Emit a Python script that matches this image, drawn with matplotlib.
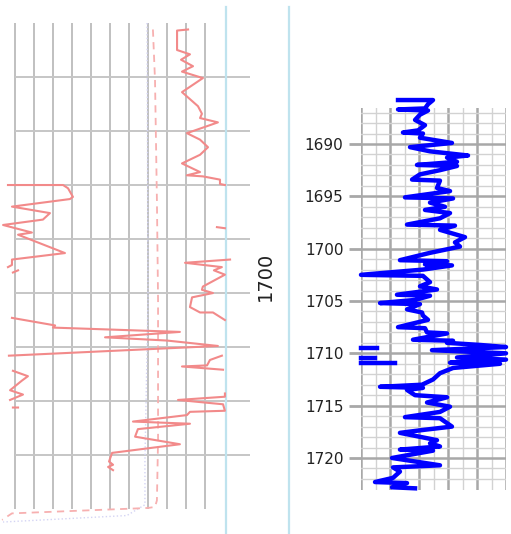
import numpy as np
import matplotlib
matplotlib.use("Agg")
import matplotlib.pyplot as plt

# ---- left track: curves (value 0-100 scale, depth) ----
curve_a_val = [91.1, 85.3, 85.3, 92.1, 87.4, 93.7, 87.9, 98.9, 87.9, 96.3, 98.4, 97.4,
               106.8, 90.5, 97.4, 101.6, 97.4, 87.9, 97.4, 90.5, 98.9, 107.9, 107.9, 110.5]
curve_a_dep = [1675.6, 1675.7, 1677.5, 1677.9, 1678.4, 1679.0, 1679.5, 1680.1, 1681.4, 1682.7,
               1683.4, 1683.8, 1684.2, 1685.2, 1685.8, 1686.5, 1687.2, 1688.0, 1688.8, 1689.1,
               1689.2, 1689.5, 1689.9, 1690.0]

curve_b_val = [-3.7, 25.3, 27.9, 30.5, 28.9, -1.6, 18.4, 14.7, -6.3, 8.9, 1.6, 26.3, -1.6, -1.6, -3.7,
               np.nan, -1.1, 1.6]
curve_b_dep = [1690.0, 1690.0, 1690.3, 1691.1, 1691.3, 1692.0, 1692.6, 1693.2, 1693.7, 1694.4,
               1694.6, 1696.3, 1696.9, 1697.4, 1697.6, np.nan, 1698.1, 1697.9]

curve_c_val = [106.3, 110.5, np.nan, 113.2, 89.5, 108.9, 104.7, 110.5, 98.9, 98.4, 104.2, 93.2,
               92.1, 97.4, 104.2, 110.5]
curve_c_dep = [1693.9, 1694.0, np.nan, 1696.9, 1697.2, 1697.6, 1697.9, 1698.3, 1699.4, 1699.7,
               1700.0, 1700.4, 1701.3, 1701.8, 1701.8, 1702.5]

curve_d_val = [-1.6, 21.1, 20.0, 86.8, 47.4, 80.0, 106.8, -3.2, np.nan,
               108.9, 102.6, 101.1, 87.9, 109.5]
curve_d_dep = [1702.3, 1703.0, 1703.2, 1703.6, 1704.1, 1704.4, 1704.9, 1705.8, np.nan,
               1705.8, 1706.2, 1706.7, 1706.8, 1707.1]

curve_e_val = [-1.1, 6.8, 3.7, -2.6, 4.2, -2.6, np.nan, -1.1, 1.6]
curve_e_dep = [1707.2, 1707.7, 1708.1, 1709.0, 1709.4, 1709.9, np.nan, 1710.6, 1710.6]

curve_f_val = [110.5, 110.5, 85.8, 109.5, 110.5, 92.1, 90.5, 62.1, 92.1, 64.7, 63.2, 86.8,
               51.1, 49.5, 51.6, 49.0, 51.6]
curve_f_dep = [1709.3, 1709.6, 1709.9, 1710.3, 1710.9, 1711.0, 1711.3, 1711.9, 1712.1, 1712.6,
               1713.3, 1714.0, 1714.8, 1715.6, 1715.9, 1716.1, 1716.4]

dashed_val = [72.6, 73.7, 74.7, 75.3, 75.3, 74.7, 73.7, 70.0, -1.6, -6.8]
dashed_dep = [1675.6, 1680.3, 1691.4, 1700.6, 1713.6, 1719.2, 1719.8, 1719.9, 1720.4, 1721.0]

dotted_val = [69.5, 70.0, 68.4, 68.4, 58.9, -6.3]
dotted_dep = [1675.0, 1700.6, 1715.5, 1719.6, 1720.6, 1721.2]

# ---- right track: blue log ----
blue_dep = [1685.8, 1685.8, 1686.2, 1686.6, 1686.7, 1686.8, 1687.2, 1687.7, 1688.2, 1688.7,
            1688.9, 1689.0, 1689.4, 1689.9, 1690.3, 1690.7, 1691.1, 1691.3, 1691.7, 1692.0,
            1692.1, 1692.5, 1692.9, 1693.4, 1693.5, 1694.2, 1694.5, 1695.1, 1695.2, 1695.6,
            1696.0, 1696.3, 1696.6, 1697.1, 1697.7, 1697.8, 1698.2, 1698.9, 1699.4, 1699.8,
            1700.4, 1701.1, 1701.2, 1701.5, 1701.6, 1702.0, 1702.5, 1702.6, 1703.2, 1703.6,
            1703.9, 1704.4, 1704.5, 1704.9, 1705.2, 1705.3, 1705.8, 1706.1, 1706.4, 1706.8,
            1707.5, 1707.6, 1708.0, 1708.1, 1708.7, 1708.8, 1709.0, 1709.2, 1709.4, 1709.7,
            1710.0, 1710.4, 1710.6, 1710.9, 1711.0, 1711.4, 1711.9, 1712.5, 1713.0, 1713.2,
            1713.3, 1713.5, 1714.0, 1714.2, 1714.7, 1715.1, 1715.6, 1716.1, 1716.2, 1717.0,
            1717.3, 1717.6, 1718.3, 1718.6, 1718.9, 1719.2, 1719.3, 1720.0, 1720.7, 1720.9,
            1721.3, 1721.9, 1722.3, 1722.4, 1722.8, 1722.9]
blue_val = [38.3, 74.5, 69.3, 66.2, 38.3, 69.3, 61.0, 55.9, 66.2, 59.0,
            43.4, 64.1, 61.0, 94.1, 50.7, 71.4, 110.7, 89.0, 99.3, 57.9,
            99.3, 81.7, 61.0, 52.8, 81.7, 78.6, 92.1, 45.5, 95.2, 71.4,
            86.9, 66.2, 92.1, 81.7, 47.6, 97.2, 81.7, 107.6, 97.2, 102.4,
            71.4, 40.3, 89.0, 66.2, 94.1, 64.1, 0.0, 64.1, 71.4, 61.0,
            78.6, 37.2, 71.4, 55.9, 19.7, 61.0, 47.6, 63.1, 64.1, 69.3,
            38.3, 66.2, 68.3, 89.0, 53.8, 95.2, 89.0, 123.1, 150.0, 73.4,
            150.0, 99.3, 150.0, 92.1, 143.8, 95.2, 81.7, 74.5, 63.1, 19.7,
            64.1, 47.6, 55.9, 89.0, 68.3, 92.1, 81.7, 45.5, 81.7, 94.1,
            66.2, 40.3, 78.6, 71.4, 81.7, 40.3, 74.5, 32.1, 81.7, 33.1,
            40.3, 33.1, 14.5, 47.6, 32.1, 55.9]
# wrapped-around pieces at the left edge
wrap_dep = [1709.5, 1709.5, np.nan, 1710.4, 1710.4, np.nan, 1710.9, 1710.9]
wrap_val = [0.0, 16.6, np.nan, 0.0, 14.5, np.nan, 0.0, 35.2]

depth_ticks = [1690, 1695, 1700, 1705, 1710, 1715, 1720]

W, H = 511, 534
fig = plt.figure(figsize=(W / 100, H / 100), dpi=100)

red = '#f28a8a'

# left track
ax1 = fig.add_axes([0, 0, 250 / W, 1])
ax1.set_xlim(-7.9, 123.7)
ax1.set_ylim(1722.31, 1672.87)
ax1.axis('off')
ax1.vlines(np.arange(0, 101, 10), 1675, 1720, color='#b5b5b5', lw=1.2, zorder=1)
ax1.hlines(np.arange(1680, 1716, 5), 0, 123.7, color='#c6c6c6', lw=1.4, zorder=1)
ax1.axvline(111, ymin=0, ymax=1 - 7 / H, color='#bfe3ee', lw=1.6, zorder=1)
ax1.plot(dotted_val, dotted_dep, color='#d4d4f4', lw=1, ls=':', zorder=2)
ax1.plot(dashed_val, dashed_dep, color='#f7b0b0', lw=1.3, ls=(0, (4, 3)), zorder=2)
for v, d in [(curve_a_val, curve_a_dep), (curve_b_val, curve_b_dep), (curve_c_val, curve_c_dep),
             (curve_d_val, curve_d_dep), (curve_e_val, curve_e_dep), (curve_f_val, curve_f_dep)]:
    ax1.plot(v, d, color=red, lw=1.5, zorder=3, solid_joinstyle='round')

# middle strip: depth label and separator
axm = fig.add_axes([250 / W, 0, 61 / W, 1])
axm.set_xlim(0, 1)
axm.set_ylim(0, 1)
axm.axis('off')
axm.axvline(0.639, ymin=0, ymax=1 - 7 / H, color='#bfe3ee', lw=1.6)
axm.text(0.25, 0.483, '1700', rotation=90, ha='center', va='center', fontsize=14, color='#222222')

# right track
ax2 = fig.add_axes([361 / W, 1 - 490 / H, 145 / W, 382 / H])
ax2.set_xlim(0, 150)
ax2.set_ylim(1723.06, 1686.56)
for s in ax2.spines.values():
    s.set_visible(False)
ax2.set_xticks(np.arange(0, 151, 30))
ax2.set_xticks(np.arange(15, 150, 30), minor=True)
ax2.set_yticks(depth_ticks)
ax2.set_yticks(np.arange(1687, 1723, 1), minor=True)
ax2.tick_params(axis='x', which='both', length=0, labelbottom=False)
ax2.tick_params(axis='y', which='major', length=8.6, width=2, color='#a8a8a8', pad=4,
                labelsize=11, labelcolor='#222222')
ax2.tick_params(axis='y', which='minor', length=0)
ax2.grid(which='major', color='#a8a8a8', lw=1.8, zorder=0)
ax2.grid(which='minor', color='#d2d2d2', lw=1.0, zorder=0)
ax2.set_axisbelow(True)
ax2.plot(blue_val, blue_dep, color='#0000ff', lw=3.2, clip_on=False, zorder=3, solid_joinstyle='round')
ax2.plot(wrap_val, wrap_dep, color='#0000ff', lw=3.2, clip_on=False, zorder=3)

fig.savefig('out.png', dpi=100)
